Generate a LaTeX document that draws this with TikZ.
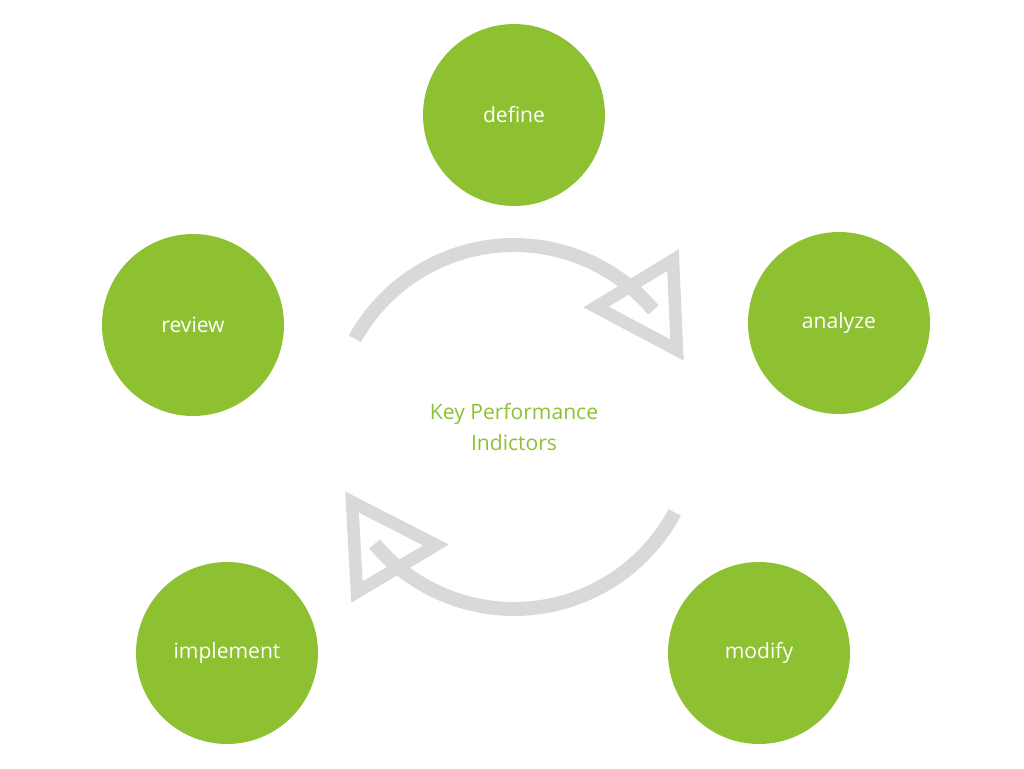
\documentclass[tikz,border=0pt]{standalone}
\usepackage{fontspec}
\setmainfont{Open Sans}
\usepackage{tikz}
\usetikzlibrary{positioning}
\definecolor{kpigreen}{HTML}{8DC132}
\definecolor{ringgray}{HTML}{D9D9D9}
\begin{document}
\begin{tikzpicture}[x=0.02cm,y=-0.02cm]

		\tikzstyle{stage}=[circle, fill=kpigreen, draw=none, minimum size=3.64cm, inner sep=0pt, text=white, font=\fontsize{12}{15}\selectfont]
		\tikzstyle{ring}=[draw=ringgray, line width=0.28cm]
		\tikzstyle{tip}=[draw=ringgray, line width=0.25cm, line join=miter, fill=none]

		\useasboundingbox (0,0) rectangle (1024,768);

		\node (define) at (514,115) [stage] {define};
		\node (analyze) at (839,323) [stage] {analyze};
		\node (modify) at (759,653) [stage] {modify};
		\node (implement) at (227,653) [stage] {implement};
		\node (review) at (193,325) [stage] {review};

		\node (kpi) at (514,427) [text=kpigreen, align=center, font=\fontsize{12}{18}\selectfont] {Key Performance\\Indictors};

		%% upper arc and hollow head
		\draw [ring] (kpi.center) ++(151:3.64cm) arc (151:40:3.64cm);
		\draw [tip] (673,260) -- (677,350) -- (596,307) -- cycle;

		%% lower arc and hollow head
		\draw [ring] (kpi.center) ++(-28:3.64cm) arc (-28:-140:3.64cm);
		\draw [tip] (352,502) -- (357,592) -- (436,545) -- cycle;

\end{tikzpicture}
\end{document}
